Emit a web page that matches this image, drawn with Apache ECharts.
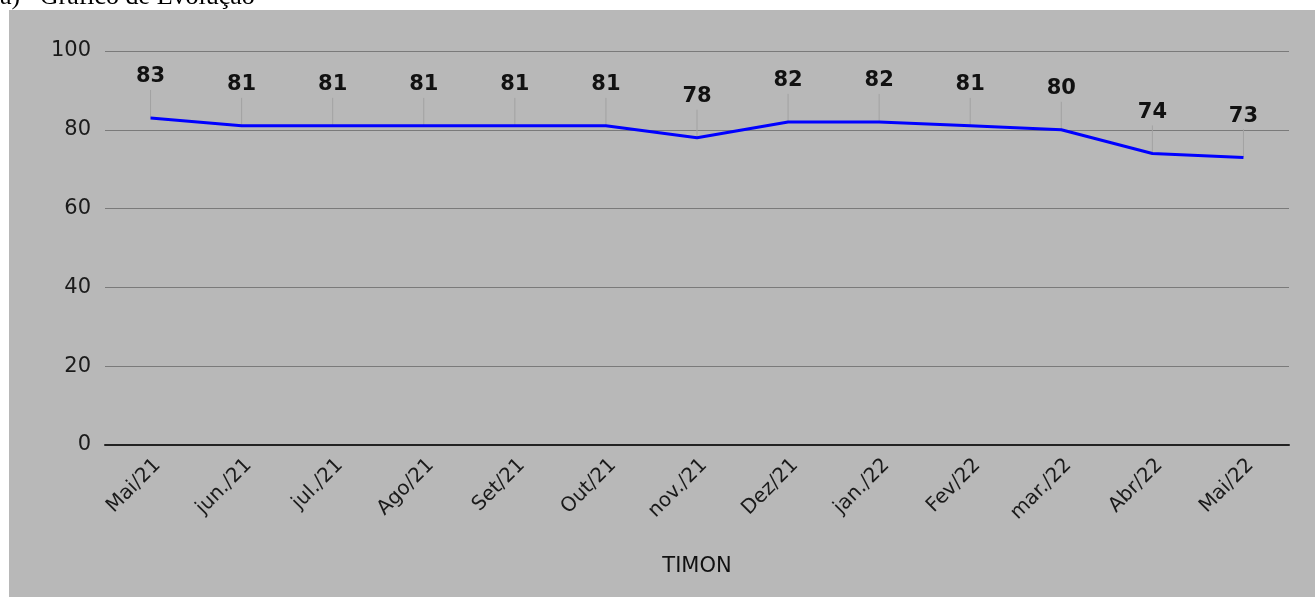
<!DOCTYPE html>
<html>
<head>
<meta charset="utf-8">
<script src="https://cdn.jsdelivr.net/npm/echarts@6/dist/echarts.min.js"></script>
<style>
  html, body { margin: 0; padding: 0; background: #ffffff; }
  #chart { width: 1315px; height: 597px; }
</style>
</head>
<body>
<div id="chart"></div>
<script>
const categories = ['Mai/21', 'jun./21', 'jul./21', 'Ago/21', 'Set/21', 'Out/21', 'nov./21', 'Dez/21', 'jan./22', 'Fev/22', 'mar./22', 'Abr/22', 'Mai/22'];
const values = [83, 81, 81, 81, 81, 81, 78, 82, 82, 81, 80, 74, 73];
const yMin = 0;
const yMax = 100;
const yInterval = 20;
const axisTitle = 'TIMON';
const caption = 'a)   Gráfico de Evolução';

const FONT = '"DejaVu Sans", "Liberation Sans", sans-serif';
const chart = echarts.init(document.getElementById('chart'), null, { renderer: 'canvas' });

const option = {
  backgroundColor: '#ffffff',
  animation: false,
  graphic: [
    {
      type: 'text', left: 0, top: -16, z: 0,
      style: { text: caption, font: '26px "Liberation Serif", "Times New Roman", serif', fill: '#000' }
    },
    {
      type: 'rect', shape: { x: 9, y: 10, width: 1306, height: 587 }, z: -10, zlevel: 0,
      style: { fill: '#b8b8b8' }
    }
  ],
  grid: { left: 105, right: 26, top: 51, bottom: 152, containLabel: false },
  xAxis: {
    type: 'category',
    data: categories,
    boundaryGap: true,
    axisTick: { show: false },
    axisLine: { show: true, lineStyle: { color: '#222', width: 2 } },
    axisLabel: { rotate: 45, margin: 10, fontSize: 20, color: '#1a1a1a', fontFamily: FONT, verticalAlign: 'top' },
    name: axisTitle,
    nameLocation: 'middle',
    nameGap: 111,
    nameTextStyle: { fontSize: 21, color: '#111', fontFamily: FONT }
  },
  yAxis: {
    type: 'value',
    min: yMin, max: yMax, interval: yInterval,
    axisLine: { show: false },
    axisTick: { show: false },
    axisLabel: { margin: 14, fontSize: 21, color: '#1a1a1a', fontFamily: FONT },
    splitLine: { show: true, lineStyle: { color: '#7a7a7a', width: 1 } }
  },
  series: [
    {
      type: 'custom',
      data: values.map((v, i) => [i, v]),
      z: 1,
      renderItem: function (params, api) {
        const p = api.coord([api.value(0), api.value(1)]);
        return {
          type: 'group',
          children: [
            { type: 'line', shape: { x1: p[0], y1: p[1], x2: p[0], y2: p[1] - 28 },
              style: { stroke: '#a2a2a2', lineWidth: 1 } },
            { type: 'text', x: p[0], y: p[1] - 41,
              style: { text: String(api.value(1)), font: 'bold 21px ' + FONT, fill: '#111',
                       textAlign: 'center', textVerticalAlign: 'middle' } }
          ]
        };
      }
    },
    {
      type: 'line',
      data: values,
      z: 3,
      symbol: 'none',
      lineStyle: { color: '#0000ff', width: 3 },
      itemStyle: { color: '#0000ff' }
    }
  ]
};
chart.setOption(option);
</script>
</body>
</html>
